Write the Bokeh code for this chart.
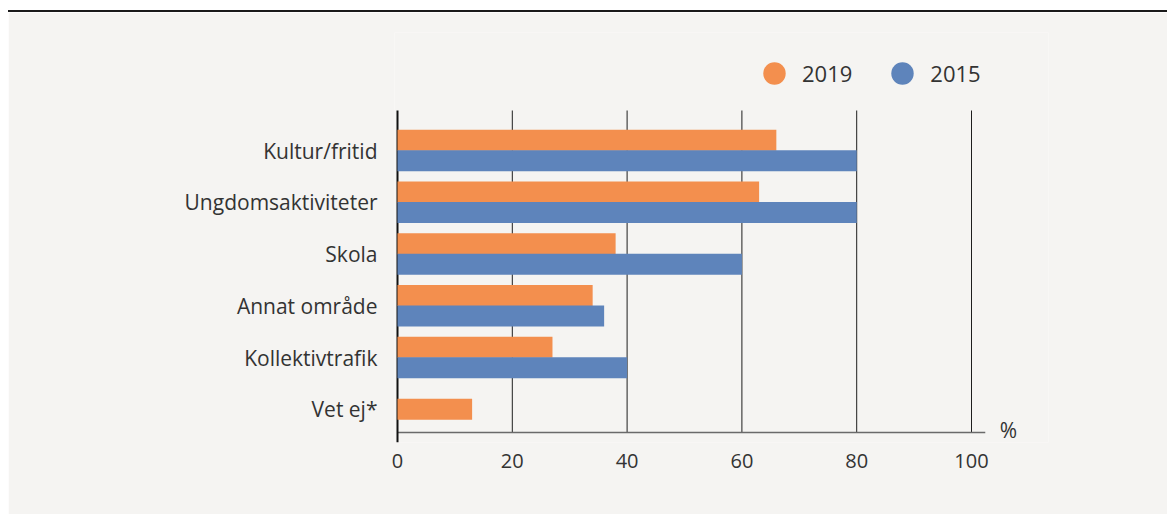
from bokeh.plotting import figure
from bokeh.models import (Range1d, FixedTicker, ColumnDataSource, Legend, LegendItem,
                          Label, Div)
from bokeh.layouts import column
from bokeh.embed import file_html
from bokeh.resources import INLINE

# ---- data ----
categories = ["Kultur/fritid", "Ungdomsaktiviteter", "Skola", "Annat område",
              "Kollektivtrafik", "Vet ej*"]
values_2019 = [66, 63, 38, 34, 27, 13]
values_2015 = [80, 80, 60, 36, 40, None]
series_labels = ["2019", "2015"]
x_ticks = [0, 20, 40, 60, 80, 100]

ORANGE = "#F38F4E"
BLUE = "#5E84BB"
BG = "#F5F4F2"
TEXT = "#333333"
FONT = "Open Sans"

n = len(categories)
pos = [n - 1 - i for i in range(n)]          # top category highest
bar_h = 0.406
off = 0.2

y19, x19, y15, x15 = [], [], [], []
for i, c in enumerate(categories):
    has15 = values_2015[i] is not None
    y19.append(pos[i] + (off if has15 else 0))
    x19.append(values_2019[i])
    if has15:
        y15.append(pos[i] - off)
        x15.append(values_2015[i])

# ---- layout geometry (pixels within the figure) ----
W, H = 1159, 502
ppu = 5.74                 # pixels per x unit
zero_px = 389              # x=0 position
frame_l, frame_r = 386, 1040
frame_t, frame_b = 20, 430
ppc = 51.75                # pixels per category
first_c = 138              # centre of first category
x_start = -(zero_px - frame_l) / ppu
x_end = (frame_r - zero_px) / ppu
y_top = (n - 1) + (first_c - frame_t) / ppc
y_bot = (n - 1) - (frame_b - first_c) / ppc
grid_top = (n - 1) + (first_c - 98) / ppc
axis_y = (n - 1) - (420 - first_c) / ppc

p = figure(width=W, height=H, output_backend="svg", toolbar_location=None,
           x_range=Range1d(x_start, x_end), y_range=Range1d(y_bot, y_top),
           min_border_left=frame_l, min_border_right=W - frame_r,
           min_border_top=frame_t, min_border_bottom=H - frame_b,
           margin=(0, 0, 0, 8))
p.background_fill_color = BG
p.border_fill_color = BG
p.outline_line_color = None
p.xgrid.visible = False
p.ygrid.visible = False

# vertical grid lines (stop at the x-axis line)
gx = [t for t in x_ticks if t > 0]
p.segment(x0=gx, x1=gx, y0=[axis_y] * len(gx), y1=[grid_top] * len(gx),
          line_color="#1e1e1e", line_width=1)
# x axis line
x_axis_end = x_ticks[-1] + 2.4
p.segment(x0=[0], x1=[x_axis_end], y0=[axis_y], y1=[axis_y],
          line_color="#6a6a6a", line_width=1.6)
# y axis line at zero
p.segment(x0=[0], x1=[0], y0=[y_bot], y1=[grid_top],
          line_color="#111111", line_width=2)

src19 = ColumnDataSource(dict(y=y19, right=x19))
src15 = ColumnDataSource(dict(y=y15, right=x15))
p.hbar(y="y", right="right", left=0, height=bar_h, source=src19,
       fill_color=ORANGE, line_color=None)
p.hbar(y="y", right="right", left=0, height=bar_h, source=src15,
       fill_color=BLUE, line_color=None)

# legend dots (renderers used only for legend; NaN point is not drawn)
nan = float("nan")
d19 = p.scatter(x=[nan], y=[nan], marker="circle", fill_color=ORANGE, line_color=None)
d15 = p.scatter(x=[nan], y=[nan], marker="circle", fill_color=BLUE, line_color=None)
legend = Legend(items=[LegendItem(label=series_labels[0], renderers=[d19], index=0),
                       LegendItem(label=series_labels[1], renderers=[d15], index=0)],
                orientation="horizontal", location=(352, 341),
                glyph_width=56, glyph_height=56, label_standoff=0, spacing=22,
                padding=0, margin=0, border_line_color=None,
                background_fill_alpha=0,
                label_text_font=FONT, label_text_font_size="22px",
                label_text_color=TEXT)
p.add_layout(legend, "center")

# y axis
p.yaxis.ticker = FixedTicker(ticks=pos)
p.yaxis.major_label_overrides = {pos[i]: categories[i] for i in range(n)}
p.yaxis.axis_line_color = None
p.yaxis.major_tick_line_color = None
p.yaxis.minor_tick_line_color = None
p.yaxis.major_label_standoff = 11
p.yaxis.major_label_text_font = FONT
p.yaxis.major_label_text_font_size = "21px"
p.yaxis.major_label_text_color = TEXT

# x axis
p.xaxis.ticker = FixedTicker(ticks=x_ticks)
p.xaxis.axis_line_color = None
p.xaxis.major_tick_line_color = None
p.xaxis.minor_tick_line_color = None
p.xaxis.major_label_standoff = 5
p.xaxis.major_label_text_font = FONT
p.xaxis.major_label_text_font_size = "20px"
p.xaxis.major_label_text_color = TEXT

p.add_layout(Label(x=x_ticks[-1] + 37 / ppu, y=axis_y + 3 / ppc, text="%",
                   text_align="center", text_baseline="middle", text_font=FONT,
                   text_font_size="21px", text_color=TEXT))

top_line = Div(text="", width=W, height=2, margin=(10, 0, 0, 8),
               styles={"background-color": "#1a1a1a", "overflow": "hidden"})

layout = column(top_line, p, spacing=0)
open("out.html", "w").write(file_html(layout, INLINE))
